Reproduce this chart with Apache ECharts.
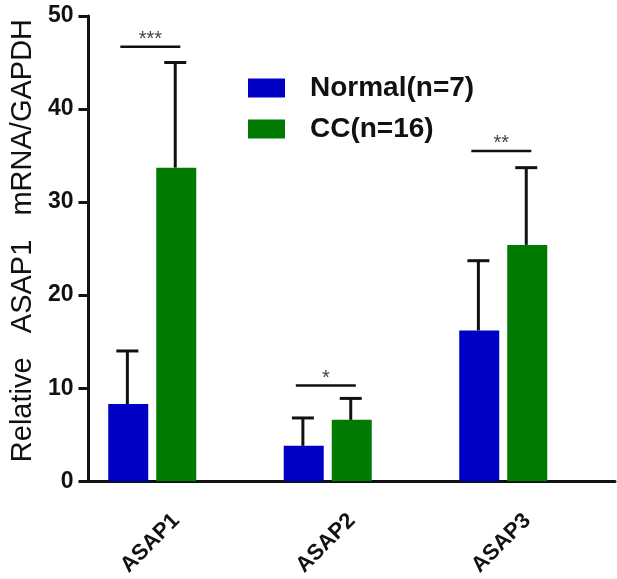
<!DOCTYPE html>
<html>
<head>
<meta charset="utf-8">
<script src="https://cdn.jsdelivr.net/npm/echarts@6/dist/echarts.min.js"></script>
<style>html,body{margin:0;padding:0;background:#fff;}#c{width:617px;height:579px;}</style>
</head>
<body>
<div id="c"></div>
<script>
var categories = ['ASAP1', 'ASAP2', 'ASAP3'];
var normalMean = [8.3, 3.8, 16.2];
var normalErr = [14.0, 6.8, 23.7];
var ccMean = [33.7, 6.6, 25.4];
var ccErr = [45.0, 8.9, 33.7];
var sigHeight = [46.7, 10.3, 35.5];
var sigLabel = ['***', '*', '**'];
var yTicks = [0, 10, 20, 30, 40, 50];

var BLUE = '#0000C4';
var GREEN = '#007A00';
var FONT = '"Liberation Sans", Arial, sans-serif';

var chart = echarts.init(document.getElementById('c'), null, {renderer: 'canvas'});

// bar centre offsets as fraction of band width (Normal, CC)
var OFF_N = -49 / 176, OFF_C = -1 / 176;

function errItem(off) {
  return function (params, api) {
    var idx = api.value(0);
    var p0 = api.coord([idx, api.value(1)]);
    var p1 = api.coord([idx, api.value(2)]);
    var bw = api.size([1, 0])[0];
    var x = p0[0] + off * bw;
    var cap = 11;
    var st = {stroke: '#111', lineWidth: 3};
    return {
      type: 'group',
      children: [
        {type: 'line', shape: {x1: x, y1: p0[1], x2: x, y2: p1[1]}, style: st},
        {type: 'line', shape: {x1: x - cap, y1: p1[1], x2: x + cap, y2: p1[1]}, style: st}
      ]
    };
  };
}

function sigItem(params, api) {
  var idx = api.value(0);
  var p = api.coord([idx, api.value(1)]);
  var bw = api.size([1, 0])[0];
  var cx = p[0] - 26 / 176 * bw;
  var half = 30;
  return {
    type: 'group',
    children: [
      {type: 'line', shape: {x1: cx - half, y1: p[1], x2: cx + half, y2: p[1]}, style: {stroke: '#111', lineWidth: 2.5}},
      {type: 'text', x: cx, y: p[1] + 3, style: {text: sigLabel[idx], fill: '#444', font: '20px ' + FONT, textAlign: 'center', textVerticalAlign: 'bottom'}}
    ]
  };
}

var option = {
  backgroundColor: '#fff',
  animation: false,
  grid: {left: 87, right: 2, top: 16, bottom: 97, containLabel: false},
  legend: {
    orient: 'vertical', left: 248, top: 74, padding: 0,
    data: ['Normal(n=7)', 'CC(n=16)'],
    icon: 'rect', itemWidth: 37, itemHeight: 19, itemGap: 13,
    textStyle: {fontSize: 28, fontWeight: 'bold', color: '#111', fontFamily: FONT, padding: [0, 0, 0, 20]}
  },
  xAxis: {
    type: 'category', data: categories,
    axisLine: {lineStyle: {color: '#111', width: 3}},
    axisTick: {alignWithLabel: true, length: 9, lineStyle: {width: 3, color: '#111'}},
    axisLabel: {rotate: 45, margin: 36, fontSize: 22, fontWeight: 'bold', color: '#111', fontFamily: FONT}
  },
  yAxis: {
    type: 'value', min: yTicks[0], max: yTicks[yTicks.length - 1], interval: 10,
    name: '  Relative   ASAP1   mRNA/GAPDH', nameLocation: 'middle', nameGap: 50,
    nameTextStyle: {fontSize: 29, color: '#111', fontFamily: FONT},
    splitLine: {show: false},
    axisLine: {show: true, lineStyle: {color: '#111', width: 3}},
    axisTick: {show: true, length: 10, lineStyle: {width: 3, color: '#111'}},
    axisLabel: {margin: 15, fontSize: 23, fontWeight: 'bold', color: '#111', fontFamily: FONT}
  },
  series: [
    {name: 'Normal(n=7)', type: 'bar', data: normalMean, barWidth: 40, barGap: '20%', itemStyle: {color: BLUE}},
    {name: 'CC(n=16)', type: 'bar', data: ccMean, barWidth: 40, barGap: '20%', itemStyle: {color: GREEN}},
    {name: 'spacer', type: 'bar', data: [], barWidth: 40, barGap: '20%'},
    {type: 'custom', renderItem: errItem(OFF_N), z: 5,
     data: categories.map(function (c, i) { return [i, normalMean[i], normalErr[i]]; })},
    {type: 'custom', renderItem: errItem(OFF_C), z: 5,
     data: categories.map(function (c, i) { return [i, ccMean[i], ccErr[i]]; })},
    {type: 'custom', renderItem: sigItem, z: 5,
     data: categories.map(function (c, i) { return [i, sigHeight[i]]; })}
  ]
};
chart.setOption(option);
</script>
</body>
</html>
